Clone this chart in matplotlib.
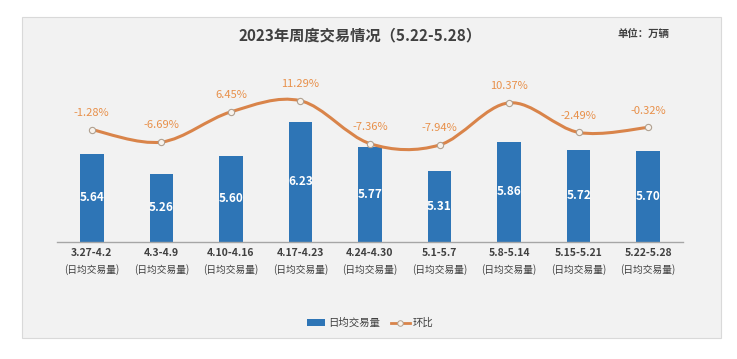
import matplotlib
matplotlib.use("Agg")
import matplotlib.pyplot as plt
from matplotlib.patches import Rectangle, Patch, PathPatch
from matplotlib.path import Path
from matplotlib.lines import Line2D

plt.rcParams['font.family'] = ['Noto Sans CJK SC', 'DejaVu Sans']

weeks = ['3.27-4.2', '4.3-4.9', '4.10-4.16', '4.17-4.23', '4.24-4.30',
         '5.1-5.7', '5.8-5.14', '5.15-5.21', '5.22-5.28']
daily_volume = [5.64, 5.26, 5.60, 6.23, 5.77, 5.31, 5.86, 5.72, 5.70]
wow_change = [-1.28, -6.69, 6.45, 11.29, -7.36, -7.94, 10.37, -2.49, -0.32]

bar_color = '#2e75b6'
line_color = '#d9844a'
label_orange = '#e8904a'
text_grey = '#404040'

fig = plt.figure(figsize=(7.37, 3.59), dpi=100)
fig.patch.set_facecolor('white')
# grey card behind the chart
fig.patches.append(Rectangle((22 / 737, 1 - 338 / 359), 699 / 737, 321 / 359,
                             transform=fig.transFigure, facecolor='#f2f2f2',
                             edgecolor='#d9d9d9', linewidth=0.8, zorder=-5))

ax = fig.add_axes([57 / 737, 1 - 241.7 / 359, 626 / 737, 181.7 / 359])
ax.set_facecolor('none')
x = list(range(len(weeks)))
ax.bar(x, [v - 4.0 for v in daily_volume], bottom=4.0, width=0.34,
       color=bar_color, zorder=2)
for xi, v in zip(x, daily_volume):
    ax.text(xi, (4.0 + v) / 2, f'{v:.2f}', ha='center', va='center',
            color='white', fontsize=8.5, fontweight='bold', zorder=3)
ax.set_xlim(-0.5, len(weeks) - 0.5)
ax.set_ylim(4.0, 7.39)
for s in ['top', 'left', 'right']:
    ax.spines[s].set_visible(False)
ax.spines['bottom'].set_color('#a6a6a6')
ax.spines['bottom'].set_linewidth(1.0)
ax.set_yticks([])
ax.set_xticks(x)
ax.set_xticklabels([])
ax.tick_params(axis='x', length=0)
for xi, w in zip(x, weeks):
    ax.annotate(w, (xi, 4.0), xytext=(0, -11 / 1.389), textcoords='offset points',
                ha='center', va='center', fontsize=7.5, fontweight='bold',
                color=text_grey, annotation_clip=False)
    ax.annotate('(日均交易量)', (xi, 4.0), xytext=(0, -28 / 1.389),
                textcoords='offset points', ha='center', va='center',
                fontsize=7, color=text_grey, annotation_clip=False)

# smooth line for week-on-week change (Catmull-Rom as cubic Bezier)
ax2 = ax.twinx()
ax2.set_ylim(-50, 29)
ax2.set_yticks([])
for s in ax2.spines.values():
    s.set_visible(False)
verts = [(x[0], wow_change[0])]
codes = [Path.MOVETO]
n = len(x)
for i in range(n - 1):
    p0 = (x[max(i - 1, 0)], wow_change[max(i - 1, 0)])
    p1 = (x[i], wow_change[i])
    p2 = (x[i + 1], wow_change[i + 1])
    p3 = (x[min(i + 2, n - 1)], wow_change[min(i + 2, n - 1)])
    c1 = (p1[0] + (p2[0] - p0[0]) / 6, p1[1] + (p2[1] - p0[1]) / 6)
    c2 = (p2[0] - (p3[0] - p1[0]) / 6, p2[1] - (p3[1] - p1[1]) / 6)
    verts += [c1, c2, p2]
    codes += [Path.CURVE4] * 3
ax2.add_patch(PathPatch(Path(verts, codes), facecolor='none',
                        edgecolor=line_color, linewidth=2.2, zorder=3))
ax2.plot(x, wow_change, linestyle='none', marker='o', markersize=4.5,
         markerfacecolor='#f7f2ec', markeredgecolor='#b0a090',
         markeredgewidth=0.8, zorder=4)
for xi, v in zip(x, wow_change):
    ax2.annotate(f'{v:.2f}%', (xi, v), xytext=(0, 12), textcoords='offset points',
                 ha='center', va='center', fontsize=8, color=label_orange)

fig.text(360 / 737, 1 - 35 / 359, '2023年周度交易情况（5.22-5.28）', ha='center',
         va='center', fontsize=11, fontweight='bold', color=text_grey)
fig.text(643 / 737, 1 - 35 / 359, '单位：万辆', ha='center', va='center',
         fontsize=7.5, fontweight='bold', color=text_grey)

handles = [Patch(facecolor=bar_color, edgecolor='none'),
           Line2D([0], [0], color=line_color, linewidth=2, marker='o',
                  markersize=4, markerfacecolor='#f7f2ec',
                  markeredgecolor='#b0a090', markeredgewidth=0.7)]
fig.legend(handles, ['日均交易量', '环比'], loc='center',
           bbox_to_anchor=(370 / 737, 1 - 323 / 359), ncol=2, frameon=False,
           fontsize=7.5, handlelength=1.8, handleheight=0.6, columnspacing=1.0,
           handletextpad=0.3, labelcolor=text_grey)

fig.savefig('out.png', dpi=100)
